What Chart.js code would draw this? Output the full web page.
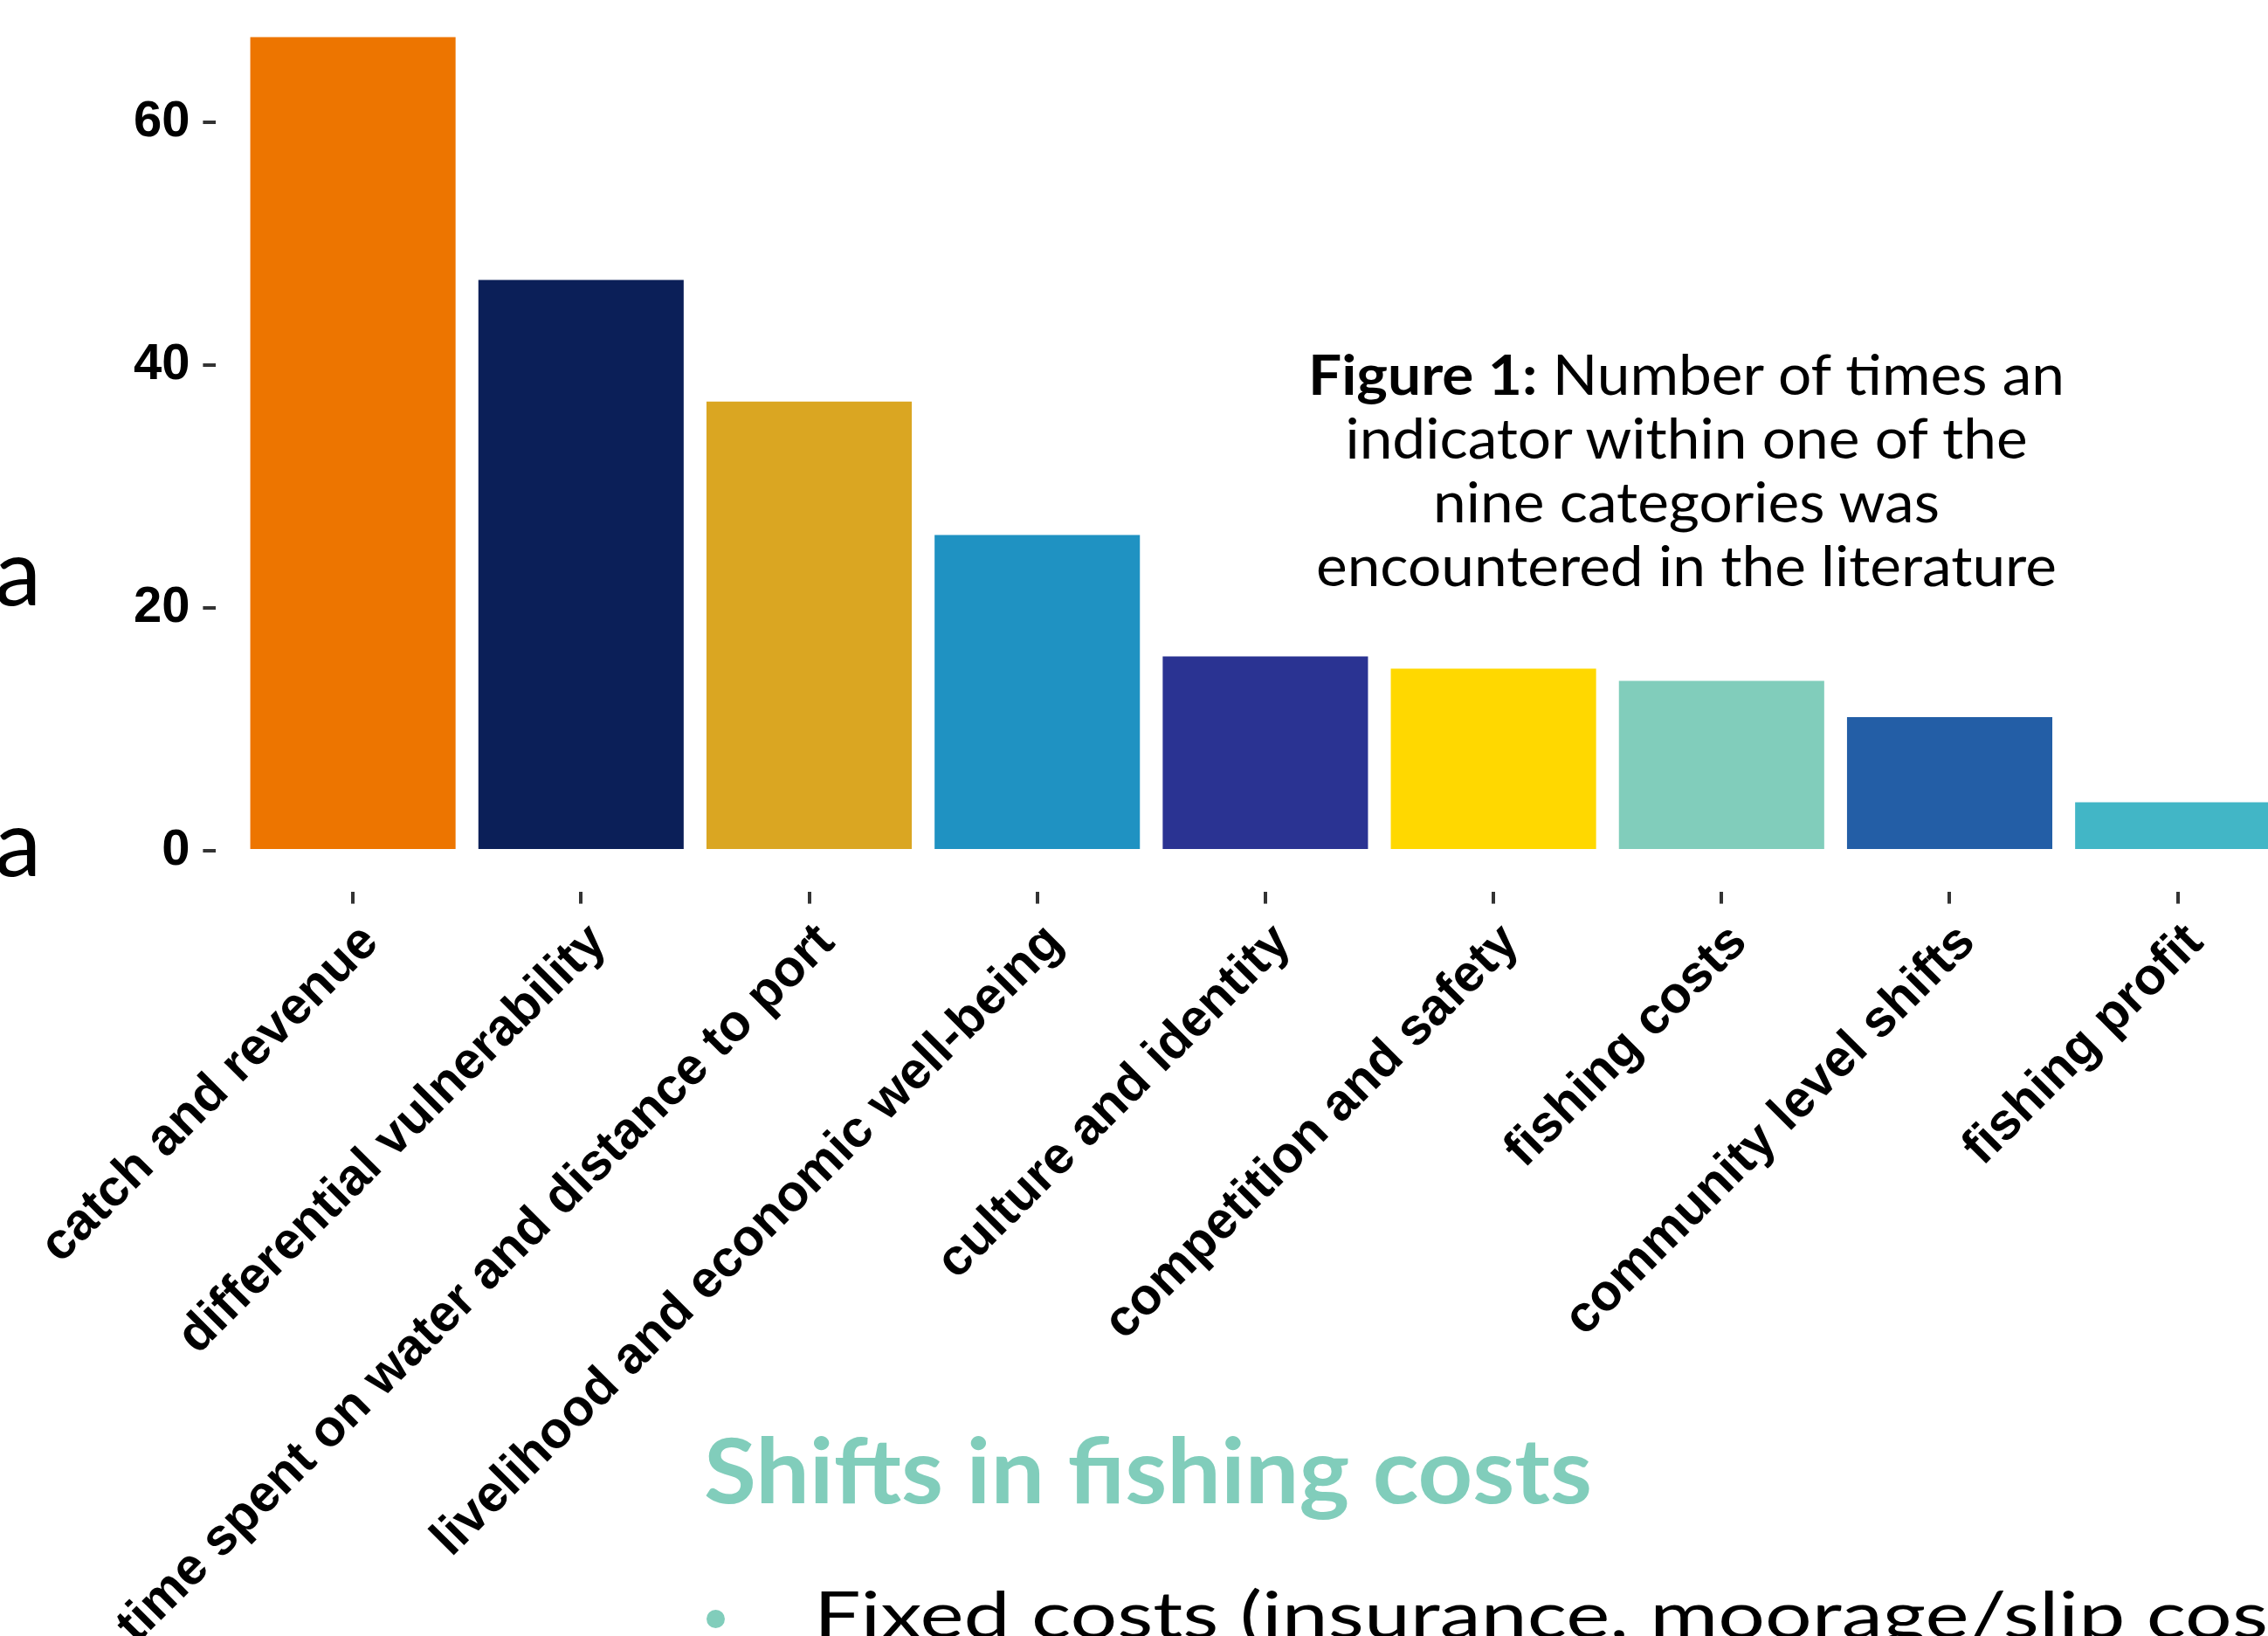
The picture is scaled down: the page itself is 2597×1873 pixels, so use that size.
<!DOCTYPE html>
<html lang="en">
<head>
<meta charset="UTF-8">
<title>Indicator categories</title>
<script src="https://cdn.jsdelivr.net/npm/chart.js@4.4.0/dist/chart.umd.min.js"></script>
<style>
  html, body { margin: 0; padding: 0; background: #fff; }
  body { width: 2597px; height: 1873px; overflow: hidden; position: relative; font-family: Lato, 'Open Sans', sans-serif; color: #000; }
  #chart { position: absolute; left: 0; top: -20px; }
  .txt { position: absolute; white-space: nowrap; line-height: 1.2; }
  #caption { left: 1431px; top: 391px; width: 1000px; text-align: center; font-size: 64px; line-height: 73px; transform-origin: 50% 0; }
  #caption b { font-weight: 700; }
  #heading { left: 806px; top: 1620px; font-size: 103px; font-weight: 700; color: #81cdbb; transform-origin: 0 0; }
  #bullet { position: absolute; left: 809px; top: 1843px; width: 21px; height: 21px; border-radius: 50%; background: #81cdbb; }
  #point { left: 932px; top: 1803px; font-size: 74px; transform-origin: 0 0; }
  .edge { font-size: 107px; left: -6px; }
</style>
</head>
<body>
<canvas id="chart" width="2660" height="2100"></canvas>

<div class="txt edge" style="top:588px">a</div>
<div class="txt edge" style="top:898px">a</div>

<div id="caption" class="txt">
  <b>Figure 1:</b> Number of times an<br>
  indicator within one of the<br>
  nine categories was<br>
  encountered in the literature
</div>

<div id="heading" class="txt">Shifts in fishing costs</div>
<div id="bullet"></div>
<div id="point" class="txt">Fixed costs (insurance, moorage/slip costs)</div>

<script>
// data
const categories = [
    'catch and revenue',
    'differential vulnerability',
    'time spent on water and distance to port',
    'livelihood and economic well-being',
    'culture and identity',
    'competition and safety',
    'fishing costs',
    'community level shifts',
    'fishing profit'
];
const counts = [67, 47, 37, 26, 16, 15, 14, 11, 4];
const barColors = ['#ed7500', '#0b1f58', '#daa622', '#1f92c2', '#2a3392', '#ffd800', '#81cdbb', '#235ea6', '#42b6c6'];
const yTicks = [0, 20, 40, 60];

const labelFont = { family: "'Liberation Sans', Arial, sans-serif", size: 59, weight: 'bold' };
const tickFont = { family: "'Liberation Sans', Arial, sans-serif", size: 58, weight: 'bold' };

new Chart(document.getElementById('chart'), {
    type: 'bar',
    data: {
        datasets: [{
            data: counts.map((v, i) => ({ x: i, y: v })),
            backgroundColor: barColors,
            borderWidth: 0,
            categoryPercentage: 0.9,
            barPercentage: 1
        }]
    },
    options: {
        responsive: false,
        animation: false,
        layout: { padding: { top: 16, right: 9.6, left: 0, bottom: 0 } },
        plugins: { legend: { display: false }, tooltip: { enabled: false } },
        scales: {
            x: {
                type: 'linear',
                offset: false,
                min: -0.6,
                max: 8.6,
                afterBuildTicks: s => { s.ticks = categories.map((c, i) => ({ value: i })); },
                afterFit: s => { s.height = 1059.4; s.paddingLeft = 0; s.paddingRight = 0; },
                border: { display: false },
                grid: { offset: false, drawOnChartArea: false, drawTicks: true, tickLength: 14, tickColor: '#333', lineWidth: 4 },
                ticks: {
                    autoSkip: false,
                    minRotation: 45,
                    maxRotation: 45,
                    padding: 10,
                    labelOffset: 20,
                    color: '#000',
                    font: labelFont,
                    callback: v => categories[v]
                }
            },
            y: {
                min: -3.35,
                max: 70.35,
                afterBuildTicks: s => { s.ticks = yTicks.map(v => ({ value: v })); },
                afterFit: s => { s.width = 247.4; s.paddingTop = 0; s.paddingBottom = 0; },
                border: { display: false },
                grid: { drawOnChartArea: false, drawTicks: true, tickLength: 15, tickColor: '#333', lineWidth: 4 },
                ticks: { padding: 15, color: '#000', font: tickFont }
            }
        }
    }
});

// squeeze the slide text to the widths seen in the picture
const mctx = document.createElement('canvas').getContext('2d');
function textWidth(el, str) {
    const cs = getComputedStyle(el);
    mctx.font = cs.fontWeight + ' ' + cs.fontSize + ' ' + cs.fontFamily;
    return mctx.measureText(str).width;
}
function squeeze() {
    const cap = document.getElementById('caption');
    cap.style.transform = 'scaleX(' + (848 / textWidth(cap, 'encountered in the literature')) + ')';
    const head = document.getElementById('heading');
    head.style.transform = 'scaleX(' + (1017 / textWidth(head, 'Shifts in fishing costs')) + ')';
    const pt = document.getElementById('point');
    pt.style.transform = 'scaleX(' + (1665 / textWidth(pt, 'Fixed costs (insurance, moorage/slip cos')) + ')';
}
squeeze();
</script>
</body>
</html>
